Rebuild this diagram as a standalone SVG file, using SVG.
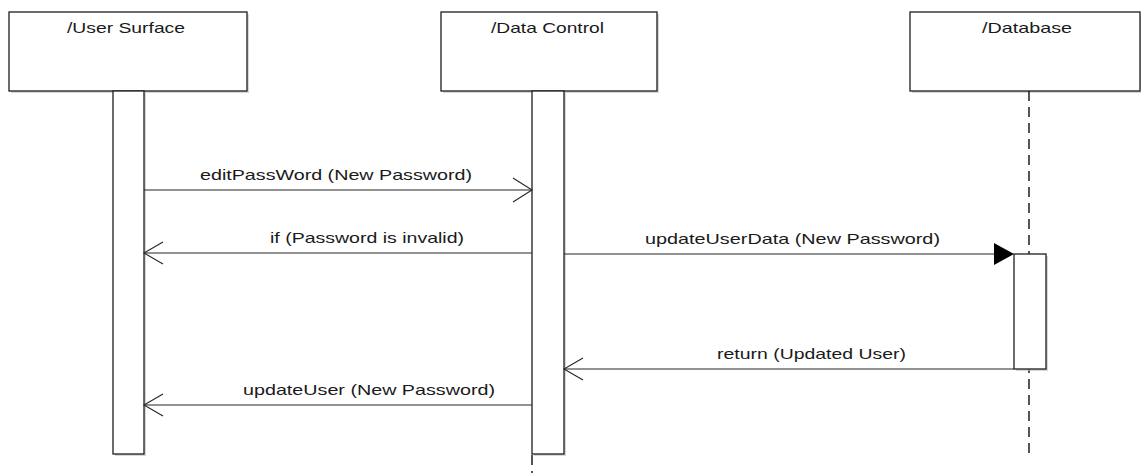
<svg xmlns="http://www.w3.org/2000/svg" width="1141" height="473" viewBox="0 0 1141 473">
<style>
  .box { fill: #ffffff; stroke: #1e1e1e; stroke-width: 1.3; }
  .shadow { fill: #bdbdbd; opacity: 0.6; }
  .act { fill: #ffffff; stroke: #1e1e1e; stroke-width: 1.3; }
  .msg { fill: none; stroke: #262626; stroke-width: 1.2; }
  .life { fill: none; stroke: #1e1e1e; stroke-width: 1.5; stroke-dasharray: 10 6; }
  .head { fill: none; stroke: #262626; stroke-width: 1.1; }
  .t { font-family: "Liberation Sans", Arial, sans-serif; font-size: 15px; fill: #1a1a1a; }
</style>
<rect width="1141" height="473" fill="#ffffff"/>

<g id="user-surface">
  <rect class="shadow" x="11" y="14" width="238" height="79"/>
  <rect class="box" x="9" y="12" width="238" height="79"/>
  <text class="t" x="67" y="33" textLength="118" lengthAdjust="spacingAndGlyphs">/User Surface</text>
  <rect class="shadow" x="115" y="93" width="31" height="363"/>
  <rect class="act" x="113" y="91" width="31" height="363"/>
</g>

<g id="data-control">
  <rect class="shadow" x="443" y="14" width="216" height="79"/>
  <rect class="box" x="441" y="12" width="216" height="79"/>
  <text class="t" x="491" y="33" textLength="113" lengthAdjust="spacingAndGlyphs">/Data Control</text>
  <line class="life" x1="532" y1="455" x2="532" y2="473"/>
  <rect class="shadow" x="534" y="93" width="32" height="363"/>
  <rect class="act" x="532" y="91" width="32" height="363"/>
</g>

<g id="database">
  <rect class="shadow" x="912" y="14" width="230" height="79"/>
  <rect class="box" x="910" y="12" width="230" height="79"/>
  <text class="t" x="982" y="33" textLength="90" lengthAdjust="spacingAndGlyphs">/Database</text>
  <line class="life" x1="1029" y1="91" x2="1029" y2="455"/>
  <rect class="shadow" x="1016" y="256" width="32" height="115"/>
  <rect class="act" x="1014" y="254" width="32" height="115"/>
</g>

<g id="connectors">
  <g id="m1">
    <line class="msg" x1="144" y1="190" x2="532" y2="190"/>
    <polyline class="head" points="513,178 532,190 513,202"/>
    <text class="t" x="200" y="180" textLength="272" lengthAdjust="spacingAndGlyphs">editPassWord (New Password)</text>
  </g>
  <g id="m2">
    <line class="msg" x1="532" y1="253" x2="144" y2="253"/>
    <polyline class="head" points="163,242 144,253 163,264"/>
    <text class="t" x="270" y="243" textLength="194" lengthAdjust="spacingAndGlyphs">if (Password is invalid)</text>
  </g>
  <g id="m3">
    <line class="msg" x1="564" y1="254" x2="995" y2="254"/>
    <polygon points="994,243 1014,254 994,265" fill="#000000"/>
    <text class="t" x="645" y="244" textLength="295" lengthAdjust="spacingAndGlyphs">updateUserData (New Password)</text>
  </g>
  <g id="m4">
    <line class="msg" x1="1014" y1="369" x2="564" y2="369"/>
    <polyline class="head" points="583,358 564,369 583,380"/>
    <text class="t" x="717" y="359" textLength="189" lengthAdjust="spacingAndGlyphs">return (Updated User)</text>
  </g>
  <g id="m5">
    <line class="msg" x1="532" y1="405" x2="144" y2="405"/>
    <polyline class="head" points="163,394 144,405 163,416"/>
    <text class="t" x="243" y="395" textLength="252" lengthAdjust="spacingAndGlyphs">updateUser (New Password)</text>
  </g>
</g>
</svg>
